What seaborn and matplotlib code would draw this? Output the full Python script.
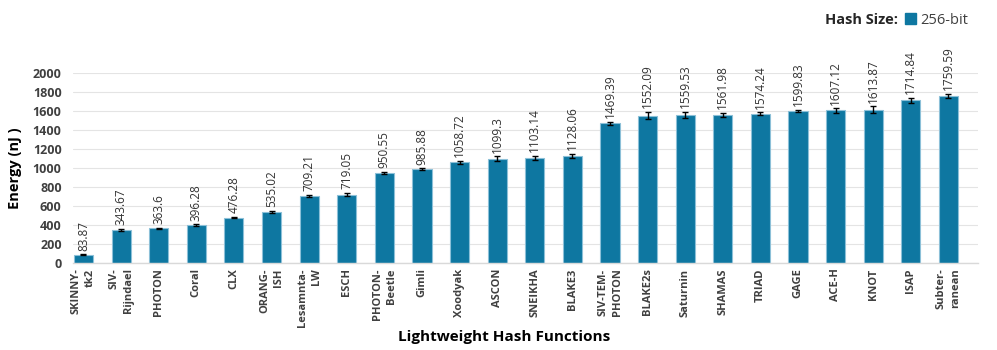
import matplotlib
matplotlib.use("Agg")
import matplotlib.pyplot as plt
import seaborn as sns
import pandas as pd
from matplotlib.patches import Patch

categories = ["SKINNY-\ntk2", "SIV-\nRijndael", "PHOTON", "Coral", "CLX", "ORANG-\nISH",
              "Lesamnta-\nLW", "ESCH", "PHOTON-\nBeetle", "Gimli", "Xoodyak", "ASCON",
              "SNEIKHA", "BLAKE3", "SIV-TEM-\nPHOTON", "BLAKE2s", "Saturnin", "SHAMAS",
              "TRIAD", "GAGE", "ACE-H", "KNOT", "ISAP", "Subter-\nranean"]
energy = [83.87, 343.67, 363.6, 396.28, 476.28, 535.02, 709.21, 719.05, 950.55, 985.88,
          1058.72, 1099.3, 1103.14, 1128.06, 1469.39, 1552.09, 1559.53, 1561.98, 1574.24,
          1599.83, 1607.12, 1613.87, 1714.84, 1759.59]
errors = [5, 12, 8, 10, 8, 10, 10, 18, 10, 10, 18, 22, 22, 18, 15, 40, 28, 22, 12, 12,
          22, 35, 25, 25]
value_labels = ["83.87", "343.67", "363.6", "396.28", "476.28", "535.02", "709.21", "719.05",
                "950.55", "985.88", "1058.72", "1099.3", "1103.14", "1128.06", "1469.39",
                "1552.09", "1559.53", "1561.98", "1574.24", "1599.83", "1607.12", "1613.87",
                "1714.84", "1759.59"]
yticks = [0, 200, 400, 600, 800, 1000, 1200, 1400, 1600, 1800, 2000]

df = pd.DataFrame({"name": categories, "energy": energy})

sns.set_theme(style="white")
plt.rcParams["font.family"] = ["Open Sans", "DejaVu Sans"]

bar_color = "#0E77A1"
fig = plt.figure(figsize=(9.97, 3.5), dpi=100)
ax = fig.add_axes([0.073, 0.249, 0.908, 0.542])

sns.barplot(data=df, x="name", y="energy", color=bar_color, width=0.51,
            edgecolor="#8cc0d8", linewidth=0.8, saturation=1, ax=ax, zorder=2)
xs = list(range(len(categories)))
ax.errorbar(xs, energy, yerr=errors, fmt="none", ecolor="black", elinewidth=1,
            capsize=2, capthick=1, zorder=3)

for x, v, e, lab in zip(xs, energy, errors, value_labels):
    ax.text(x, v + e + 40, lab, rotation=90, ha="center", va="bottom",
            fontsize=8.5, color="#333333")

ax.set_ylim(0, 2000)
ax.set_yticks(yticks)
ax.set_xlim(-0.285, 23.79)
ax.yaxis.grid(True, color="#e4e4e4", linewidth=0.8, zorder=0)
ax.set_axisbelow(True)
for s in ["top", "right", "left"]:
    ax.spines[s].set_visible(False)
ax.spines["bottom"].set_color("#d9d9d9")
ax.spines["bottom"].set_linewidth(1)
ax.tick_params(axis="both", length=0)
ax.tick_params(axis="y", pad=8)
ax.tick_params(axis="x", pad=4)

for t in ax.get_yticklabels():
    t.set_fontweight("bold"); t.set_fontsize(9); t.set_color("#404040")
ax.set_xticks(xs)
ax.set_xticklabels(categories, rotation=90, ha="center", va="top",
                   multialignment="right", fontsize=8, fontweight="bold", color="#404040",
                   linespacing=1.4)

ax.set_xlabel("Lightweight Hash Functions", fontsize=11, fontweight="bold", color="black")
ax.xaxis.set_label_coords(0.477, -0.355)
ax.set_ylabel("Energy (nJ )", fontsize=10.5, fontweight="bold", color="black", labelpad=8)

fig.text(0.827, 0.942, "Hash Size:", fontsize=10.5, fontweight="bold", ha="left", va="center")
ax.legend(handles=[Patch(facecolor=bar_color, edgecolor=bar_color, label="256-bit")],
          loc="center left", bbox_to_anchor=(0.9, 0.942), bbox_transform=fig.transFigure,
          frameon=False, fontsize=10.5, handlelength=0.8, handleheight=0.8,
          handletextpad=0.3, borderpad=0, labelcolor="#404040")

fig.savefig("out.png", dpi=100)
